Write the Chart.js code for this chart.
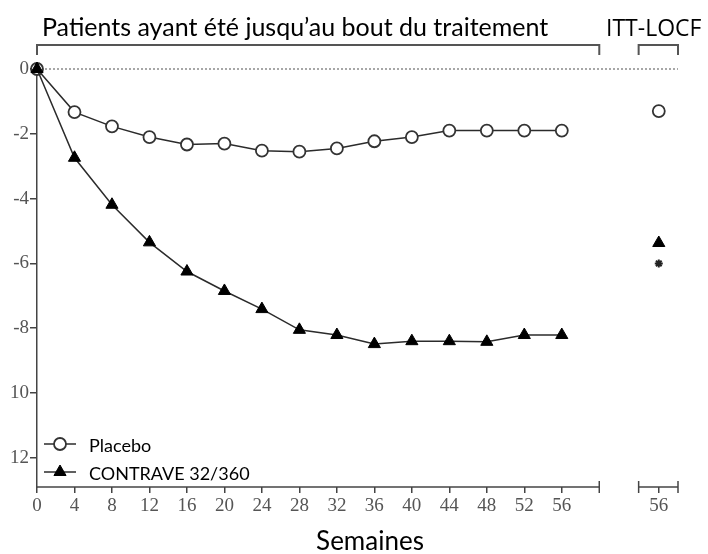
<!DOCTYPE html>
<html>
<head>
<meta charset="utf-8">
<script src="https://cdn.jsdelivr.net/npm/chart.js@4.4.1/dist/chart.umd.min.js"></script>
<style>
  html, body { margin: 0; padding: 0; background: #fff; }
</style>
</head>
<body>
<canvas id="myChart" width="708" height="554"></canvas>
<script>
// variation du poids (%) par semaine

var weeks = [0, 4, 8, 12, 16, 20, 24, 28, 32, 36, 40, 44, 48, 52, 56];
var placebo = [0, -1.33, -1.77, -2.1, -2.33, -2.3, -2.52, -2.55, -2.45, -2.23, -2.1, -1.9, -1.9, -1.9, -1.9];
var contrave = [0, -2.74, -4.19, -5.35, -6.25, -6.85, -7.41, -8.05, -8.21, -8.49, -8.4, -8.4, -8.42, -8.21, -8.21];

// ITT-LOCF, semaine 56
var ittPlacebo = -1.3;
var ittContrave = -5.37;
var ittStar = -6.0;

var seriesNames = ['Placebo', 'CONTRAVE 32/360'];
var yTicks = [-12, -10, -8, -6, -4, -2, 0];
var yLabels = ['12', '10', '-8', '-6', '-4', '-2', '0'];

// axe x coupé : 0-60 puis bloc ITT
var mainEnd = 60;
var ittStart = 64.2;
var ittWeek = 66.35;
var ittEnd = 68.4;

var xTicks = weeks.concat([ittWeek]);
var xLabels = weeks.map(String).concat(['56']);

var lineColor = '#2b2b2b';
var axisColor = '#444';
var tickFont = { family: 'Liberation Serif', size: 19 };
var textFont = 'Lato';

function pts(xs, ys) {
    return xs.map(function (w, i) { return { x: w, y: ys[i] }; });
}

var decor = {
    id: 'decor',
    afterDraw: function (chart) {
        var ctx = chart.ctx, x = chart.scales.x, y = chart.scales.y;
        var yb = y.bottom;
        ctx.save();
        ctx.strokeStyle = axisColor;
        ctx.lineWidth = 1.5;
        // axe x en deux morceaux
        [[0, mainEnd], [ittStart, ittEnd]].forEach(function (s) {
            ctx.beginPath();
            ctx.moveTo(x.getPixelForValue(s[0]), yb);
            ctx.lineTo(x.getPixelForValue(s[1]), yb);
            ctx.stroke();
        });
        [mainEnd, ittStart, ittEnd].forEach(function (v) {
            var px = x.getPixelForValue(v);
            ctx.beginPath();
            ctx.moveTo(px, yb - 6);
            ctx.lineTo(px, yb + 6);
            ctx.stroke();
        });

        // crochets en haut
        ctx.strokeStyle = '#555';
        ctx.lineWidth = 2;
        [[0, mainEnd], [ittStart, ittEnd]].forEach(function (s) {
            var a = x.getPixelForValue(s[0]), b = x.getPixelForValue(s[1]);
            ctx.beginPath();
            ctx.moveTo(a, 55);
            ctx.lineTo(a, 45);
            ctx.lineTo(b, 45);
            ctx.lineTo(b, 55);
            ctx.stroke();
        });

        // titres
        ctx.fillStyle = '#000';
        ctx.textBaseline = 'alphabetic';
        ctx.textAlign = 'left';
        ctx.font = '25px ' + textFont;
        ctx.fillText('Patients ayant été jusqu’au bout du traitement', 42, 36);
        ctx.font = '23px "Open Sans"';
        ctx.fillText('ITT-LOCF', 606, 36);
        ctx.textAlign = 'center';
        ctx.font = '26px ' + textFont;
        ctx.fillText('Semaines', 370, 550);

        // légende
        var items = [
            { label: seriesNames[0], ds: chart.data.datasets[1], cy: 444 },
            { label: seriesNames[1], ds: chart.data.datasets[0], cy: 472 }
        ];
        items.forEach(function (it) {
            ctx.strokeStyle = lineColor;
            ctx.lineWidth = 1.5;
            ctx.beginPath();
            ctx.moveTo(44, it.cy);
            ctx.lineTo(76, it.cy);
            ctx.stroke();
            ctx.fillStyle = it.ds.pointBackgroundColor;
            ctx.strokeStyle = it.ds.pointBorderColor;
            ctx.lineWidth = it.ds.pointBorderWidth;
            Chart.helpers.drawPoint(ctx, {
                pointStyle: it.ds.pointStyle,
                radius: it.ds.pointRadius,
                borderWidth: it.ds.pointBorderWidth,
                rotation: 0
            }, 60, it.cy);
            ctx.fillStyle = '#000';
            ctx.textAlign = 'left';
            ctx.textBaseline = 'middle';
            ctx.font = '18px ' + textFont;
            ctx.fillText(it.label, 89, it.cy + 2);
        });
        ctx.restore();
    }
};

var circleStyle = {
    pointStyle: 'circle',
    pointRadius: 6,
    pointHoverRadius: 6,
    pointBackgroundColor: '#fff',
    pointBorderColor: '#333',
    pointBorderWidth: 1.8
};
var triangleStyle = {
    pointStyle: 'triangle',
    pointRadius: 7,
    pointHoverRadius: 7,
    pointBackgroundColor: '#000',
    pointBorderColor: '#000',
    pointBorderWidth: 1
};

new Chart('myChart', {
    type: 'line',
    data: {
        datasets: [
            Object.assign({
                label: seriesNames[1],
                data: pts(weeks, contrave),
                borderColor: lineColor,
                borderWidth: 1.5,
                clip: false
            }, triangleStyle),
            Object.assign({
                label: seriesNames[0],
                data: pts(weeks, placebo),
                borderColor: lineColor,
                borderWidth: 1.5,
                clip: false
            }, circleStyle),
            Object.assign({
                label: 'ITT ' + seriesNames[1],
                data: [{ x: ittWeek, y: ittContrave }],
                showLine: false,
                clip: false
            }, triangleStyle),
            Object.assign({
                label: 'ITT ' + seriesNames[0],
                data: [{ x: ittWeek, y: ittPlacebo }],
                showLine: false,
                clip: false
            }, circleStyle),
            {
                label: '*',
                data: [{ x: ittWeek, y: ittStar }],
                showLine: false,
                pointStyle: 'star',
                pointRadius: 4,
                pointBorderColor: '#222',
                pointBorderWidth: 2,
                clip: false
            },
            {
                label: 'zero',
                data: [{ x: 0, y: 0 }, { x: ittEnd, y: 0 }],
                borderColor: '#8a8a8a',
                borderWidth: 1.5,
                borderDash: [2, 2],
                pointRadius: 0,
                clip: false
            }
        ]
    },
    options: {
        responsive: false,
        animation: false,
        devicePixelRatio: 1,
        layout: { padding: { top: 69, right: 30, left: 0, bottom: 0 } },
        plugins: {
            legend: { display: false },
            tooltip: { enabled: false }
        },
        scales: {
            x: {
                type: 'linear',
                min: 0,
                max: ittEnd,
                afterBuildTicks: function (s) {
                    s.ticks = xTicks.map(function (v) { return { value: v }; });
                },
                afterFit: function (s) { s.height = 67; },
                border: { display: false },
                grid: { drawOnChartArea: false, drawTicks: true, tickLength: 6, color: axisColor, lineWidth: 1.5 },
                ticks: {
                    autoSkip: false,
                    maxRotation: 0,
                    padding: 2,
                    color: '#555',
                    font: tickFont,
                    callback: function (v, i) { return xLabels[i]; }
                }
            },
            y: {
                min: -12.9,
                max: 0,
                afterBuildTicks: function (s) {
                    s.ticks = yTicks.map(function (v) { return { value: v }; });
                },
                afterFit: function (s) { s.width = 37; },
                border: { display: true, color: axisColor, width: 1.5 },
                grid: { drawOnChartArea: false, drawTicks: true, tickLength: 7, color: axisColor, lineWidth: 1.5 },
                ticks: {
                    padding: 1,
                    color: '#555',
                    font: tickFont,
                    callback: function (v, i) { return yLabels[i]; }
                }
            }
        }
    },
    plugins: [decor]
});
</script>
</body>
</html>
